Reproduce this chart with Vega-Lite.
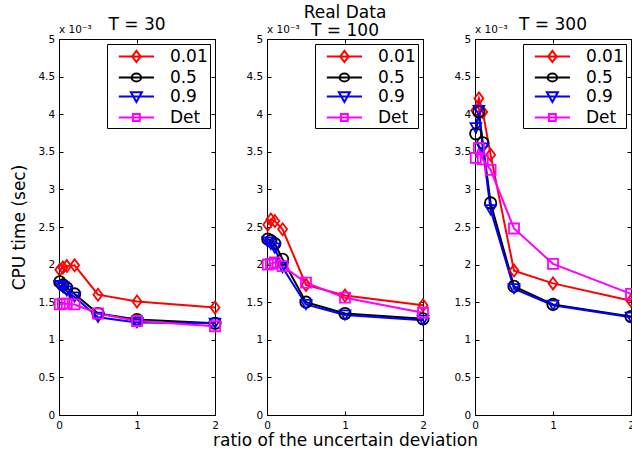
{
  "$schema": "https://vega.github.io/schema/vega-lite/v6.json",
  "autosize": {"type": "pad"},
  "padding": {"left": 9, "top": 3, "right": 0, "bottom": 0},
  "background": "white",
  "bounds": "flush",
  "spacing": 52,
  "config": {
    "view": {"stroke": "black", "strokeWidth": 1},
    "font": "DejaVu Sans",
    "title": {"font": "DejaVu Sans", "fontSize": 17, "fontWeight": "normal", "color": "black", "anchor": "middle", "baseline": "bottom"},
    "axis": {"labelFont": "DejaVu Sans", "labelFontSize": 10.5, "labelColor": "black", "labelFlush": false, "tickColor": "black", "tickWidth": 1, "titleFont": "DejaVu Sans", "titleFontSize": 17, "titleFontWeight": "normal", "titleColor": "black", "grid": false, "domain": false},
    "legend": {"labelFont": "DejaVu Sans", "labelFontSize": 17, "labelColor": "black"}
  },
  "data": {"values": [
    {"T": 30, "s": "0.01", "x": 0.01, "y": 1.93}, {"T": 30, "s": "0.01", "x": 0.05, "y": 1.96}, {"T": 30, "s": "0.01", "x": 0.1, "y": 1.98}, {"T": 30, "s": "0.01", "x": 0.2, "y": 1.99}, {"T": 30, "s": "0.01", "x": 0.5, "y": 1.6}, {"T": 30, "s": "0.01", "x": 1, "y": 1.51}, {"T": 30, "s": "0.01", "x": 2, "y": 1.43},
    {"T": 30, "s": "0.5", "x": 0.01, "y": 1.77}, {"T": 30, "s": "0.5", "x": 0.05, "y": 1.73}, {"T": 30, "s": "0.5", "x": 0.1, "y": 1.69}, {"T": 30, "s": "0.5", "x": 0.2, "y": 1.61}, {"T": 30, "s": "0.5", "x": 0.5, "y": 1.35}, {"T": 30, "s": "0.5", "x": 1, "y": 1.27}, {"T": 30, "s": "0.5", "x": 2, "y": 1.22},
    {"T": 30, "s": "0.9", "x": 0.01, "y": 1.72}, {"T": 30, "s": "0.9", "x": 0.05, "y": 1.7}, {"T": 30, "s": "0.9", "x": 0.1, "y": 1.65}, {"T": 30, "s": "0.9", "x": 0.2, "y": 1.57}, {"T": 30, "s": "0.9", "x": 0.5, "y": 1.3}, {"T": 30, "s": "0.9", "x": 1, "y": 1.23}, {"T": 30, "s": "0.9", "x": 2, "y": 1.22},
    {"T": 30, "s": "Det", "x": 0.01, "y": 1.47}, {"T": 30, "s": "Det", "x": 0.05, "y": 1.48}, {"T": 30, "s": "Det", "x": 0.1, "y": 1.48}, {"T": 30, "s": "Det", "x": 0.2, "y": 1.47}, {"T": 30, "s": "Det", "x": 0.5, "y": 1.35}, {"T": 30, "s": "Det", "x": 1, "y": 1.25}, {"T": 30, "s": "Det", "x": 2, "y": 1.18},
    {"T": 100, "s": "0.01", "x": 0.01, "y": 2.53}, {"T": 100, "s": "0.01", "x": 0.05, "y": 2.6}, {"T": 100, "s": "0.01", "x": 0.1, "y": 2.58}, {"T": 100, "s": "0.01", "x": 0.2, "y": 2.47}, {"T": 100, "s": "0.01", "x": 0.5, "y": 1.73}, {"T": 100, "s": "0.01", "x": 1, "y": 1.59}, {"T": 100, "s": "0.01", "x": 2, "y": 1.46},
    {"T": 100, "s": "0.5", "x": 0.01, "y": 2.34}, {"T": 100, "s": "0.5", "x": 0.05, "y": 2.32}, {"T": 100, "s": "0.5", "x": 0.1, "y": 2.28}, {"T": 100, "s": "0.5", "x": 0.2, "y": 2.07}, {"T": 100, "s": "0.5", "x": 0.5, "y": 1.5}, {"T": 100, "s": "0.5", "x": 1, "y": 1.35}, {"T": 100, "s": "0.5", "x": 2, "y": 1.28},
    {"T": 100, "s": "0.9", "x": 0.01, "y": 2.3}, {"T": 100, "s": "0.9", "x": 0.05, "y": 2.27}, {"T": 100, "s": "0.9", "x": 0.1, "y": 2.22}, {"T": 100, "s": "0.9", "x": 0.2, "y": 1.96}, {"T": 100, "s": "0.9", "x": 0.5, "y": 1.47}, {"T": 100, "s": "0.9", "x": 1, "y": 1.33}, {"T": 100, "s": "0.9", "x": 2, "y": 1.26},
    {"T": 100, "s": "Det", "x": 0.01, "y": 2.0}, {"T": 100, "s": "Det", "x": 0.05, "y": 2.01}, {"T": 100, "s": "Det", "x": 0.1, "y": 2.03}, {"T": 100, "s": "Det", "x": 0.2, "y": 1.98}, {"T": 100, "s": "Det", "x": 0.5, "y": 1.76}, {"T": 100, "s": "Det", "x": 1, "y": 1.56}, {"T": 100, "s": "Det", "x": 2, "y": 1.36},
    {"T": 300, "s": "0.01", "x": 0.01, "y": 4.05}, {"T": 300, "s": "0.01", "x": 0.05, "y": 4.21}, {"T": 300, "s": "0.01", "x": 0.1, "y": 4.03}, {"T": 300, "s": "0.01", "x": 0.2, "y": 3.46}, {"T": 300, "s": "0.01", "x": 0.5, "y": 1.92}, {"T": 300, "s": "0.01", "x": 1, "y": 1.75}, {"T": 300, "s": "0.01", "x": 2, "y": 1.52},
    {"T": 300, "s": "0.5", "x": 0.01, "y": 3.74}, {"T": 300, "s": "0.5", "x": 0.05, "y": 4.03}, {"T": 300, "s": "0.5", "x": 0.1, "y": 3.62}, {"T": 300, "s": "0.5", "x": 0.2, "y": 2.82}, {"T": 300, "s": "0.5", "x": 0.5, "y": 1.71}, {"T": 300, "s": "0.5", "x": 1, "y": 1.47}, {"T": 300, "s": "0.5", "x": 2, "y": 1.31},
    {"T": 300, "s": "0.9", "x": 0.01, "y": 3.82}, {"T": 300, "s": "0.9", "x": 0.05, "y": 4.05}, {"T": 300, "s": "0.9", "x": 0.1, "y": 3.55}, {"T": 300, "s": "0.9", "x": 0.2, "y": 2.73}, {"T": 300, "s": "0.9", "x": 0.5, "y": 1.68}, {"T": 300, "s": "0.9", "x": 1, "y": 1.46}, {"T": 300, "s": "0.9", "x": 2, "y": 1.3},
    {"T": 300, "s": "Det", "x": 0.01, "y": 3.42}, {"T": 300, "s": "Det", "x": 0.05, "y": 3.55}, {"T": 300, "s": "Det", "x": 0.1, "y": 3.4}, {"T": 300, "s": "Det", "x": 0.2, "y": 3.26}, {"T": 300, "s": "Det", "x": 0.5, "y": 2.48}, {"T": 300, "s": "Det", "x": 1, "y": 2.01}, {"T": 300, "s": "Det", "x": 2, "y": 1.61}
  ]},
  "resolve": {"legend": {"color": "independent"}},
  "hconcat": [
    {
      "width": 156, "height": 376,
      "title": {"text": "T = 30", "offset": -9},
      "layer": [
        {
          "transform": [{"filter": "datum.T == 30"}],
          "mark": {"type": "line", "strokeWidth": 2},
          "encoding": {
            "x": {"field": "x", "type": "quantitative", "scale": {"domain": [0, 2], "nice": false}, "axis": {"orient": "bottom", "values": [0, 1, 2], "format": "~g", "offset": -4, "tickSize": 4, "labelPadding": 5.5, "title": null}},
            "y": {"field": "y", "type": "quantitative", "scale": {"domain": [0, 5], "nice": false}, "axis": {"orient": "left", "values": [0, 0.5, 1, 1.5, 2, 2.5, 3, 3.5, 4, 4.5, 5], "format": "~g", "offset": -4, "tickSize": 4, "labelPadding": 4.4, "title": "CPU time (sec)", "titlePadding": 9.5}},
            "color": {"field": "s", "type": "nominal", "scale": {"domain": ["0.01", "0.5", "0.9", "Det"], "range": ["#ff0000", "#000000", "#0000ff", "#ff00ff"]},
              "legend": {"orient": "top-right", "offset": 5, "title": null, "strokeColor": "black", "fillColor": "white", "padding": 2, "symbolSize": 361, "symbolStrokeWidth": 2, "rowPadding": -0.6, "symbolOffset": 16.9, "labelOffset": 23, "labelExpr": "datum.label + '\u00a0\u00a0\u00a0'",
                "encode": {"symbols": {"update": {"fill": {"value": "transparent"}, "shape": {"signal": "datum.value === '0.01' ? 'M-1.85,0H1.85M0,-0.59L0.44,0L0,0.59L-0.44,0Z' : datum.value === '0.5' ? 'M-1.85,0H1.85M-0.5,0A0.5,0.42,0,1,0,0.5,0A0.5,0.42,0,1,0,-0.5,0Z' : datum.value === '0.9' ? 'M-1.85,0H1.85M-0.58,-0.44L0.58,-0.44L0,0.58Z' : 'M-1.85,0H1.85M-0.36,-0.36H0.36V0.36H-0.36Z'"}}}}}}
          }
        },
        {
          "transform": [{"filter": "datum.T == 30"}],
          "mark": {"type": "point", "filled": false, "strokeWidth": 1.8, "opacity": 1},
          "encoding": {
            "x": {"field": "x", "type": "quantitative", "axis": {"orient": "top", "values": [0, 1, 2], "labels": false, "offset": -4, "tickSize": 4, "title": null}},
            "y": {"field": "y", "type": "quantitative", "axis": {"orient": "right", "values": [0, 0.5, 1, 1.5, 2, 2.5, 3, 3.5, 4, 4.5, 5], "labels": false, "offset": -4, "tickSize": 4, "title": null}},
            "color": {"field": "s", "type": "nominal", "legend": null},
            "shape": {"field": "s", "type": "nominal", "scale": {"domain": ["0.01", "0.5", "0.9", "Det"], "range": ["M0,-1L0.75,0L0,1L-0.75,0Z", "circle", "triangle-down", "square"]}, "legend": null},
            "size": {"field": "s", "type": "nominal", "scale": {"domain": ["0.01", "0.5", "0.9", "Det"], "range": [144, 100, 121, 64]}, "legend": null}
          }
        },
        {
          "data": {"values": [{"label": "x 10⁻³"}]},
          "mark": {"type": "text", "align": "left", "baseline": "alphabetic", "dy": -5.7, "fontSize": 10.5, "color": "black"},
          "encoding": {
            "x": {"datum": 0, "type": "quantitative", "axis": null},
            "y": {"datum": 5, "type": "quantitative", "axis": null},
            "text": {"field": "label"}
          }
        }
      ],
      "resolve": {"axis": {"x": "independent", "y": "independent"}}
    },
    {
      "width": 156, "height": 376,
      "title": {"text": ["Real Data", "T = 100"], "lineHeight": 18.4, "offset": -15},
      "layer": [
        {
          "transform": [{"filter": "datum.T == 100"}],
          "mark": {"type": "line", "strokeWidth": 2},
          "encoding": {
            "x": {"field": "x", "type": "quantitative", "scale": {"domain": [0, 2], "nice": false}, "axis": {"orient": "bottom", "values": [0, 1, 2], "format": "~g", "offset": -4, "tickSize": 4, "labelPadding": 5.5, "title": "ratio of the uncertain deviation", "titlePadding": 1}},
            "y": {"field": "y", "type": "quantitative", "scale": {"domain": [0, 5], "nice": false}, "axis": {"orient": "left", "values": [0, 0.5, 1, 1.5, 2, 2.5, 3, 3.5, 4, 4.5, 5], "format": "~g", "offset": -4, "tickSize": 4, "labelPadding": 4.4, "title": null}},
            "color": {"field": "s", "type": "nominal", "scale": {"domain": ["0.01", "0.5", "0.9", "Det"], "range": ["#ff0000", "#000000", "#0000ff", "#ff00ff"]},
              "legend": {"orient": "top-right", "offset": 5, "title": null, "strokeColor": "black", "fillColor": "white", "padding": 2, "symbolSize": 361, "symbolStrokeWidth": 2, "rowPadding": -0.6, "symbolOffset": 16.9, "labelOffset": 23, "labelExpr": "datum.label + '\u00a0\u00a0\u00a0'",
                "encode": {"symbols": {"update": {"fill": {"value": "transparent"}, "shape": {"signal": "datum.value === '0.01' ? 'M-1.85,0H1.85M0,-0.59L0.44,0L0,0.59L-0.44,0Z' : datum.value === '0.5' ? 'M-1.85,0H1.85M-0.5,0A0.5,0.42,0,1,0,0.5,0A0.5,0.42,0,1,0,-0.5,0Z' : datum.value === '0.9' ? 'M-1.85,0H1.85M-0.58,-0.44L0.58,-0.44L0,0.58Z' : 'M-1.85,0H1.85M-0.36,-0.36H0.36V0.36H-0.36Z'"}}}}}}
          }
        },
        {
          "transform": [{"filter": "datum.T == 100"}],
          "mark": {"type": "point", "filled": false, "strokeWidth": 1.8, "opacity": 1},
          "encoding": {
            "x": {"field": "x", "type": "quantitative", "axis": {"orient": "top", "values": [0, 1, 2], "labels": false, "offset": -4, "tickSize": 4, "title": null}},
            "y": {"field": "y", "type": "quantitative", "axis": {"orient": "right", "values": [0, 0.5, 1, 1.5, 2, 2.5, 3, 3.5, 4, 4.5, 5], "labels": false, "offset": -4, "tickSize": 4, "title": null}},
            "color": {"field": "s", "type": "nominal", "legend": null},
            "shape": {"field": "s", "type": "nominal", "scale": {"domain": ["0.01", "0.5", "0.9", "Det"], "range": ["M0,-1L0.75,0L0,1L-0.75,0Z", "circle", "triangle-down", "square"]}, "legend": null},
            "size": {"field": "s", "type": "nominal", "scale": {"domain": ["0.01", "0.5", "0.9", "Det"], "range": [144, 100, 121, 64]}, "legend": null}
          }
        },
        {
          "data": {"values": [{"label": "x 10⁻³"}]},
          "mark": {"type": "text", "align": "left", "baseline": "alphabetic", "dy": -5.7, "fontSize": 10.5, "color": "black"},
          "encoding": {
            "x": {"datum": 0, "type": "quantitative", "axis": null},
            "y": {"datum": 5, "type": "quantitative", "axis": null},
            "text": {"field": "label"}
          }
        }
      ],
      "resolve": {"axis": {"x": "independent", "y": "independent"}}
    },
    {
      "width": 156, "height": 376,
      "title": {"text": "T = 300", "offset": -9},
      "layer": [
        {
          "transform": [{"filter": "datum.T == 300"}],
          "mark": {"type": "line", "strokeWidth": 2},
          "encoding": {
            "x": {"field": "x", "type": "quantitative", "scale": {"domain": [0, 2], "nice": false}, "axis": {"orient": "bottom", "values": [0, 1, 2], "format": "~g", "offset": -4, "tickSize": 4, "labelPadding": 5.5, "title": null}},
            "y": {"field": "y", "type": "quantitative", "scale": {"domain": [0, 5], "nice": false}, "axis": {"orient": "left", "values": [0, 0.5, 1, 1.5, 2, 2.5, 3, 3.5, 4, 4.5, 5], "format": "~g", "offset": -4, "tickSize": 4, "labelPadding": 4.4, "title": null}},
            "color": {"field": "s", "type": "nominal", "scale": {"domain": ["0.01", "0.5", "0.9", "Det"], "range": ["#ff0000", "#000000", "#0000ff", "#ff00ff"]},
              "legend": {"orient": "top-right", "offset": 5, "title": null, "strokeColor": "black", "fillColor": "white", "padding": 2, "symbolSize": 361, "symbolStrokeWidth": 2, "rowPadding": -0.6, "symbolOffset": 16.9, "labelOffset": 23, "labelExpr": "datum.label + '\u00a0\u00a0\u00a0'",
                "encode": {"symbols": {"update": {"fill": {"value": "transparent"}, "shape": {"signal": "datum.value === '0.01' ? 'M-1.85,0H1.85M0,-0.59L0.44,0L0,0.59L-0.44,0Z' : datum.value === '0.5' ? 'M-1.85,0H1.85M-0.5,0A0.5,0.42,0,1,0,0.5,0A0.5,0.42,0,1,0,-0.5,0Z' : datum.value === '0.9' ? 'M-1.85,0H1.85M-0.58,-0.44L0.58,-0.44L0,0.58Z' : 'M-1.85,0H1.85M-0.36,-0.36H0.36V0.36H-0.36Z'"}}}}}}
          }
        },
        {
          "transform": [{"filter": "datum.T == 300"}],
          "mark": {"type": "point", "filled": false, "strokeWidth": 1.8, "opacity": 1},
          "encoding": {
            "x": {"field": "x", "type": "quantitative", "axis": {"orient": "top", "values": [0, 1, 2], "labels": false, "offset": -4, "tickSize": 4, "title": null}},
            "y": {"field": "y", "type": "quantitative", "axis": {"orient": "right", "values": [0, 0.5, 1, 1.5, 2, 2.5, 3, 3.5, 4, 4.5, 5], "labels": false, "offset": -4, "tickSize": 4, "title": null}},
            "color": {"field": "s", "type": "nominal", "legend": null},
            "shape": {"field": "s", "type": "nominal", "scale": {"domain": ["0.01", "0.5", "0.9", "Det"], "range": ["M0,-1L0.75,0L0,1L-0.75,0Z", "circle", "triangle-down", "square"]}, "legend": null},
            "size": {"field": "s", "type": "nominal", "scale": {"domain": ["0.01", "0.5", "0.9", "Det"], "range": [144, 100, 121, 64]}, "legend": null}
          }
        },
        {
          "data": {"values": [{"label": "x 10⁻³"}]},
          "mark": {"type": "text", "align": "left", "baseline": "alphabetic", "dy": -5.7, "fontSize": 10.5, "color": "black"},
          "encoding": {
            "x": {"datum": 0, "type": "quantitative", "axis": null},
            "y": {"datum": 5, "type": "quantitative", "axis": null},
            "text": {"field": "label"}
          }
        }
      ],
      "resolve": {"axis": {"x": "independent", "y": "independent"}}
    }
  ]
}
